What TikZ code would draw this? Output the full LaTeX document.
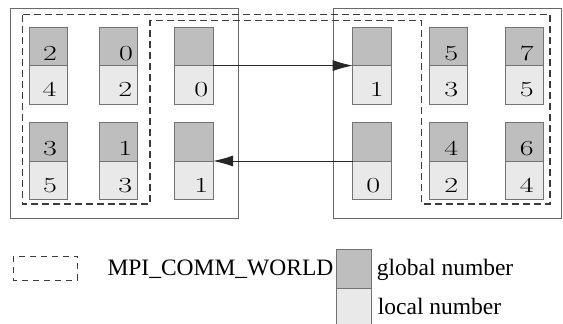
\documentclass[tikz,border=0pt]{standalone}
\usepackage{fontspec}
\usetikzlibrary{arrows.meta}
\newfontfamily\legendfont{Liberation Serif}
\definecolor{globalfill}{RGB}{190,190,190}
\definecolor{localfill}{RGB}{233,233,233}
\definecolor{cellborder}{RGB}{115,115,115}
\definecolor{boxborder}{RGB}{105,105,105}
\definecolor{commline}{RGB}{60,60,60}
\tikzset{
  gcell/.style={draw=cellborder, fill=globalfill, line width=0.8pt,
    minimum width=38.4pt, minimum height=38.3pt, inner sep=0pt, outer sep=0pt},
  lcell/.style={draw=cellborder, fill=localfill, line width=0.8pt,
    minimum width=38.4pt, minimum height=38.3pt, inner sep=0pt, outer sep=0pt},
  num/.style={inner sep=0pt, font=\fontsize{21.5}{26}\selectfont},
  procbox/.style={draw=boxborder, line width=0.9pt},
  commworld/.style={draw=commline, line width=1.2pt, dash pattern=on 7pt off 4pt},
  msg/.style={draw=black!85, line width=0.9pt, -{Latex[length=20pt,width=11pt]}},
  legendtext/.style={inner sep=0pt, anchor=base west,
    font=\legendfont\fontsize{23.5}{28}\selectfont},
}
% one process: global number on top, local number below
\newcommand\proccell[7]{%
  \node[gcell, anchor=north west] (#1g) at (#2,#3) {};
  \node[lcell, anchor=north] (#1l) at (#1g.south) {};
  \node[num] (#1gn) at ([xshift=#6pt, yshift=-6.8pt]#1g.center) {\scalebox{1.4}[1]{#4}};
  \node[num] (#1ln) at ([xshift=#7pt, yshift=-5pt]#1l.center) {\scalebox{1.4}[1]{#5}};
}
\begin{document}
\begin{tikzpicture}[x=1pt, y=-1pt]
  \useasboundingbox (0,0) rectangle (563,324);

  % two process groups
  \draw[procbox] (10.7,8) rectangle (238.7,218);
  \draw[procbox] (333,8) rectangle (561,218);

  % MPI_COMM_WORLD outline
  \draw[commworld] (22.7,14.7) -- (550,14.7) -- (550,204) -- (421.7,204)
    -- (421.7,20.7) -- (150,20.7) -- (150,204) -- (22.7,204) -- cycle;

  % left group
  \proccell{La}{29.3}{27.3}{2}{4}{1.5}{1}
  \proccell{Lb}{99}{27.3}{0}{2}{7.8}{7}
  \proccell{Lc}{174.7}{27.3}{}{0}{0}{7.5}
  \proccell{Ld}{29.3}{122.7}{3}{5}{1.5}{1.5}
  \proccell{Le}{99}{122.7}{1}{3}{7}{7}
  \proccell{Lf}{174.7}{122.7}{}{1}{0}{7.5}

  % right group
  \proccell{Ra}{352.7}{27.3}{}{1}{0}{5}
  \proccell{Rb}{429}{27.3}{5}{3}{3}{3}
  \proccell{Rc}{505}{27.3}{7}{5}{2.5}{2.5}
  \proccell{Rd}{352.7}{122.7}{}{0}{0}{1.5}
  \proccell{Re}{429}{122.7}{4}{2}{3}{3}
  \proccell{Rf}{505}{122.7}{6}{4}{2.5}{2.5}

  % messages between the groups
  \draw[msg] (Lcg.south east) -- (Rag.south west);
  \draw[msg] (Rdg.south west) -- (Lfg.south east);

  % legend
  \draw[draw=commline, line width=0.8pt, dash pattern=on 6pt off 5pt]
    (13.3,256) rectangle (77.7,280);
  \node[legendtext] (lgcomm) at (107.3,275) {MPI\_COMM\_WORLD};
  \node[gcell, anchor=north west, minimum width=35pt, minimum height=39pt] (lgg) at (336,249.3) {};
  \node[lcell, anchor=north, minimum width=35pt, minimum height=39pt] (lgl) at (lgg.south) {};
  \node[legendtext] (lgglobal) at (376.7,275) {global number};
  \node[legendtext] (lglocal) at (377.7,314.3) {local number};
\end{tikzpicture}
\end{document}
